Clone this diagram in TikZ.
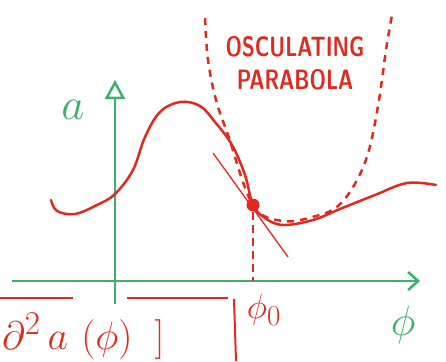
\documentclass[tikz,border=0pt]{standalone}
\usepackage{amsmath}
\usetikzlibrary{arrows.meta}
\definecolor{SketchGreen}{HTML}{3CB06C}
\definecolor{SketchRed}{HTML}{E02A1F}
\tikzset{
    % axes and curves of the sketch
    axis/.style={
        draw=SketchGreen,
        line width=2.5pt
    },
    curve/.style={
        draw=SketchRed,
        line width=2.5pt,
        line cap=round,
        line join=round
    },
    osculating/.style={
        draw=SketchRed,
        line width=2.5pt,
        dash pattern=on 7pt off 6pt
    },
    dropline/.style={
        draw=SketchRed,
        line width=2pt,
        dash pattern=on 8pt off 5pt
    },
    tangentline/.style={
        draw=SketchRed,
        line width=1.3pt
    },
    boxline/.style={
        draw=SketchRed,
        line width=2pt
    },
    greenlabel/.style={
        text=SketchGreen,
        inner sep=0pt,
        font=\Huge
    },
    redlabel/.style={
        text=SketchRed,
        inner sep=0pt,
        font=\Huge
    }
}
\begin{document}
\begin{tikzpicture}[x=1pt, y=-1pt]
    \clip (0,0) rectangle (446,361);
    \useasboundingbox (0,0) rectangle (446,361);

    % axes
    \coordinate (xstart) at (12,281);
    \coordinate (xend) at (420,281);
    \coordinate (ystart) at (115,304);
    \coordinate (yend) at (115,80);
    \draw[axis, -{Straight Barb[length=10pt,width=18pt]}] (xstart) -- (xend);
    \draw[axis, -{Triangle[open,length=19pt,width=20pt]}] (ystart) -- (yend);

    \node[greenlabel] (alabel) at (73,110) {\scalebox{1.8}{$a$}};
    \node[greenlabel] (philabel) at (403,325) {\scalebox{1.7}{$\phi$}};

    % the curve and its osculating parabola
    \draw[curve] plot[smooth, tension=0.6] coordinates {(51,200) (57,211) (75,214) (97,205)
        (115,194) (133,170) (145,137) (160,112) (180,102) (200,106) (215,122) (232,145)
        (245,175) (253,205) (265,218) (283,225) (313,220) (340,209) (375,195) (407,183) (436,185)};
    \draw[osculating] plot[smooth, tension=0.6] coordinates {(205,18) (208,60) (216,100)
        (228,135) (253,205) (283,221) (316,216) (338,206) (356,182) (369,150) (379,100)
        (386,50) (392,15)};

    \node[redlabel, font=\sffamily\bfseries\fontsize{28}{33}\selectfont, align=center] (parlabel) at (295,63)
        {\scalebox{0.74}[1]{OSCULATING}\\\scalebox{0.74}[1]{PARABOLA}};

    % touching point
    \node[circle, fill=SketchRed, minimum size=13pt, inner sep=0pt] (touch) at (253,205) {};
    \coordinate (tanup) at (213,153);
    \coordinate (tandown) at (288,257);
    \draw[tangentline] (tanup) -- (tandown);
    \coordinate (phifoot) at (253,281);
    \draw[dropline] (touch) -- (phifoot);
    \node[redlabel] (phizero) at (264,310) {\scalebox{1.4}{$\phi_0$}};

    % box below
    \coordinate (boxa) at (0,298);
    \coordinate (boxb) at (73,298);
    \coordinate (boxc) at (127,298);
    \coordinate (boxd) at (228,298);
    \coordinate (boxe) at (234,299);
    \coordinate (boxf) at (236,361);
    \draw[boxline] (boxa) -- (boxb);
    \draw[boxline] (boxc) -- (boxd);
    \draw[boxline] (boxe) -- (boxf);
    \node[redlabel, anchor=base west] (formula) at (2,349)
        {\scalebox{1.6}{$\partial^{2}\,a\,\,(\phi)\;\;]$}};
\end{tikzpicture}
\end{document}
